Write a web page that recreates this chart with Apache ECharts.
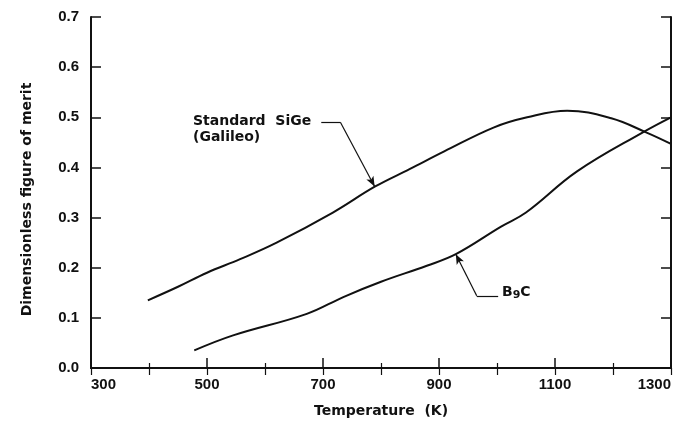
<!DOCTYPE html>
<html><head><meta charset="utf-8">
<script src="https://cdn.jsdelivr.net/npm/echarts@6/dist/echarts.min.js"></script>
<style>html,body{margin:0;padding:0;background:#fff}#c{width:688px;height:423px}</style>
</head><body><div id="c"></div>
<script>
var xTicks = [300, 500, 700, 900, 1100, 1300];
var yTicks = [0.0, 0.1, 0.2, 0.3, 0.4, 0.5, 0.6, 0.7];
var sigeT = [398, 450, 500, 557, 620, 717, 790, 850, 909, 995, 1052, 1121, 1197, 1257, 1300];
var sigeV = [0.135, 0.162, 0.19, 0.217, 0.25, 0.31, 0.362, 0.397, 0.432, 0.48, 0.5, 0.513, 0.498, 0.47, 0.447];
var b9cT = [478, 545, 672, 736, 800, 879, 929, 1007, 1050, 1138, 1253, 1300];
var b9cV = [0.035, 0.065, 0.108, 0.142, 0.172, 0.204, 0.227, 0.282, 0.31, 0.392, 0.471, 0.5];
var sigeLabel = ["Standard  SiGe", "(Galileo)"];
var b9cLabel = "B{s|9}C";
var xTitle = "Temperature  (K)";
var yTitle = "Dimensionless figure of merit";

var F = "'Liberation Sans', Arial, sans-serif";
var D = "'DejaVu Sans', sans-serif";
var chart = echarts.init(document.getElementById('c'));
function pairs(t, v){ return t.map(function(x,i){return [x, v[i]];}); }
var option = {
  animation: false,
  grid: {left: 91, right: 17, top: 17, bottom: 51},
  xAxis: [{
    type: 'value', min: 300, max: 1300, interval: 200,
    name: xTitle, nameLocation: 'middle', nameGap: 36,
    nameTextStyle: {fontFamily: D, fontWeight: 'bold', fontSize: 14, color: '#111'},
    axisLine: {lineStyle: {color: '#111', width: 2}},
    axisTick: {inside: true, length: 10, lineStyle: {color: '#111', width: 1.5}},
    minorTick: {show: true, splitNumber: 2, length: 5, lineStyle: {color: '#111', width: 1.2}},
    axisLabel: {fontFamily: F, fontWeight: 'bold', fontSize: 15, color: '#111', margin: 9,
      alignMinLabel: 'left', alignMaxLabel: 'right',
      formatter: function(v){ return xTicks.indexOf(v) >= 0 ? String(v) : ''; }},
    splitLine: {show: false}
  }, {
    type: 'value', min: 300, max: 1300, interval: 100, position: 'top',
    axisLine: {lineStyle: {color: '#111', width: 2}},
    axisTick: {inside: true, length: 7, lineStyle: {color: '#111', width: 1.2}},
    axisLabel: {show: false}, splitLine: {show: false}
  }],
  yAxis: [{
    type: 'value', min: 0, max: 0.7, interval: 0.1,
    name: yTitle, nameLocation: 'middle', nameGap: 57, nameRotate: 90,
    nameTextStyle: {fontFamily: D, fontWeight: 'bold', fontSize: 14, color: '#111', padding: [0, 14, 0, 0]},
    axisLine: {show: true, lineStyle: {color: '#111', width: 2}},
    axisTick: {show: true, inside: true, length: 10, lineStyle: {color: '#111', width: 1.5}},
    axisLabel: {fontFamily: F, fontWeight: 'bold', fontSize: 15, color: '#111', margin: 12,
      formatter: function(v){ return v.toFixed(1); }},
    splitLine: {show: false}
  }, {
    type: 'value', min: 0, max: 0.7, interval: 0.1, position: 'right',
    axisLine: {show: true, lineStyle: {color: '#111', width: 2}},
    axisTick: {show: true, inside: true, length: 10, lineStyle: {color: '#111', width: 1.5}},
    axisLabel: {show: false}, splitLine: {show: false}
  }],
  series: [{
    type: 'line', name: 'SiGe', data: pairs(sigeT, sigeV), smooth: 0.4, showSymbol: false,
    lineStyle: {color: '#111', width: 2},
    markLine: {silent: true, symbol: ['none', 'none'], label: {show: false},
      lineStyle: {color: '#111', width: 1.2, type: 'solid'},
      data: [
        [{coord: [697, 0.49], symbol: 'none'}, {coord: [730, 0.49], symbol: 'none'}],
        [{coord: [730, 0.49], symbol: 'none'}, {coord: [789, 0.362], symbol: 'arrow', symbolSize: [6, 10]}]
      ]}
  }, {
    type: 'line', name: 'B9C', data: pairs(b9cT, b9cV), smooth: 0.4, showSymbol: false,
    lineStyle: {color: '#111', width: 2},
    markLine: {silent: true, symbol: ['none', 'none'], label: {show: false},
      lineStyle: {color: '#111', width: 1.2, type: 'solid'},
      data: [
        [{coord: [1002, 0.144], symbol: 'none'}, {coord: [965, 0.144], symbol: 'none'}],
        [{coord: [965, 0.144], symbol: 'none'}, {coord: [929, 0.227], symbol: 'arrow', symbolSize: [6, 10]}]
      ]}
  }],
  graphic: [
    {type: 'text', left: 193, top: 114, style: {text: sigeLabel[0], font: 'bold 14px ' + D, fill: '#111'}},
    {type: 'text', left: 193, top: 130, style: {text: sigeLabel[1], font: 'bold 14px ' + D, fill: '#111'}},
    {type: 'text', left: 502, top: 285, style: {text: b9cLabel, font: 'bold 14px ' + D, fill: '#111',
      rich: {s: {font: 'bold 11px ' + D, fill: '#111', verticalAlign: 'bottom', padding: [6, 0, 0, 0]}}}}
  ]
};
chart.setOption(option);
</script></body></html>
